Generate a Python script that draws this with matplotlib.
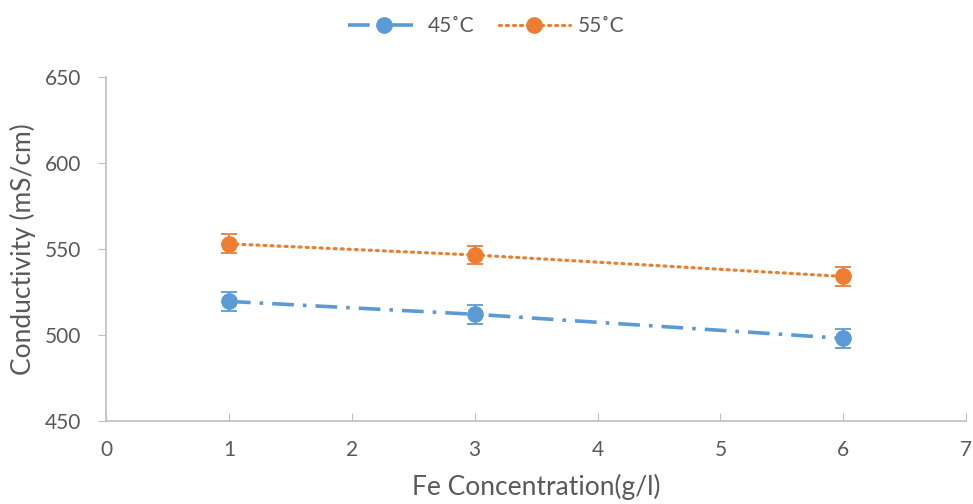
import matplotlib
matplotlib.use("Agg")
import matplotlib.pyplot as plt

fe = [1, 3, 6]
cond_45 = [519.5, 512, 498]
cond_55 = [553, 546.5, 534]
err_45 = [5.5, 5.5, 5.5]
err_55 = [5.5, 5.5, 5.5]
series_labels = ["45˚C", "55˚C"]
xticks = [0, 1, 2, 3, 4, 5, 6, 7]
yticks = [450, 500, 550, 600, 650]

plt.rcParams['font.family'] = ['Lato', 'DejaVu Sans']
txt = '#595959'
axc = '#BFBFBF'
blue = '#5B9BD5'
orange = '#ED7D31'

fig = plt.figure(figsize=(9.73, 5.04), dpi=100)
ax = fig.add_axes([0.109, 0.165, 0.884, 0.682])

styles = [
    dict(color=blue, lw=2.6, linestyle=(0, (6, 2.5, 1, 2.5))),
    dict(color=orange, lw=2.3, linestyle=(0, (0.6, 1.6)), dash_capstyle='round'),
]
for vals, errs, lab, st in [(cond_45, err_45, series_labels[0], styles[0]),
                            (cond_55, err_55, series_labels[1], styles[1])]:
    ax.plot(fe, vals, marker='o', markersize=11, label=lab, zorder=3, **st)
    ax.errorbar(fe, vals, yerr=errs, fmt='none', ecolor=st['color'], capsize=6,
                elinewidth=1.3, capthick=1.3, zorder=4)

ax.set_xlim(0, 7)
ax.set_ylim(450, 650)
ax.set_xticks(xticks)
ax.set_yticks(yticks)
for s in ['top', 'right']:
    ax.spines[s].set_visible(False)
for s in ['left', 'bottom']:
    ax.spines[s].set_color(axc)
    ax.spines[s].set_linewidth(1.2)
ax.tick_params(axis='x', direction='in', length=6, color=axc, labelsize=15, labelcolor=txt, pad=14)
ax.tick_params(axis='y', direction='out', length=6, color=axc, labelsize=15, labelcolor=txt, pad=12)
ax.set_xlabel("Fe Concentration(g/l)", fontsize=19, color=txt, labelpad=10)
ax.set_ylabel("Conductivity (mS/cm)", fontsize=19, color=txt, labelpad=6)

leg = fig.legend(loc='upper center', bbox_to_anchor=(0.5, 1.005), ncol=2, frameon=False,
                 fontsize=15, labelcolor=txt, handlelength=3.4, columnspacing=1.2,
                 handletextpad=0.4)

fig.savefig("out.png", dpi=100)
